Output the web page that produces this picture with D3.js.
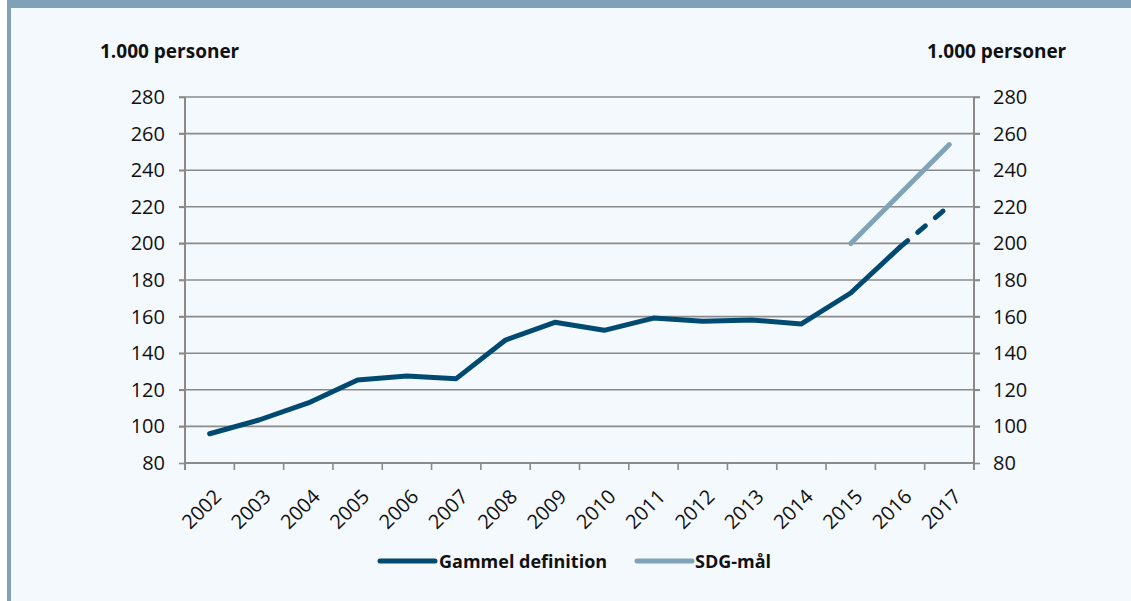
<!DOCTYPE html>
<html>
<head>
<meta charset="utf-8">
<script src="https://cdn.jsdelivr.net/npm/d3@7"></script>
<style>
  html, body { margin: 0; padding: 0; background: #ffffff; }
  #chart { width: 1131px; height: 601px; }
  text { font-family: "Open Sans", "Noto Sans", sans-serif; fill: #111; }
</style>
</head>
<body>
<div id="chart"></div>
<script>
// data
const years = ["2002", "2003", "2004", "2005", "2006", "2007", "2008", "2009",
               "2010", "2011", "2012", "2013", "2014", "2015", "2016", "2017"];
const gammel = [96, 103.5, 112.8, 125.4, 127.5, 126.1, 147.2, 156.9,
                152.5, 159.2, 157.4, 158.1, 156.0, 172.9, 198, 220.5];
const sdgYears = ["2015", "2016", "2017"];
const sdg = [200, 227, 254];
const yTicks = [80, 100, 120, 140, 160, 180, 200, 220, 240, 260, 280];
const unitLabel = "1.000 personer";
const legendNames = ["Gammel definition", "SDG-mål"];

document.addEventListener("DOMContentLoaded", function() {
  const W = 1131, H = 601;
  const margin = { top: 97, right: 157, bottom: 138, left: 185 },
        width = W - margin.left - margin.right,
        height = H - margin.top - margin.bottom;

  const root = d3.select("#chart").append("svg")
    .attr("width", W)
    .attr("height", H);

  // frame: light panel with blue-grey header and left border
  root.append("rect").attr("x", 0).attr("y", 0).attr("width", W).attr("height", H).attr("fill", "#ffffff");
  root.append("rect").attr("x", 11).attr("y", 8).attr("width", W - 11).attr("height", H - 8).attr("fill", "#f4f9fd");
  root.append("rect").attr("x", 7).attr("y", 0).attr("width", W - 7).attr("height", 8).attr("fill", "#7fa2b7");
  root.append("rect").attr("x", 7).attr("y", 0).attr("width", 4).attr("height", H).attr("fill", "#7fa2b7");

  const svg = root.append("g")
    .attr("transform", `translate(${margin.left},${margin.top})`);

  const x = d3.scaleBand().domain(years).range([0, width]);
  const y = d3.scaleLinear().domain([80, 280]).range([height, 0]);
  const cx = d => x(d) + x.bandwidth() / 2;

  // gridlines
  svg.append("g")
    .selectAll("line")
    .data(yTicks.slice(1))
    .join("line")
    .attr("x1", -6).attr("x2", width + 6)
    .attr("y1", d => y(d)).attr("y2", d => y(d))
    .attr("stroke", "#8a8a8a")
    .attr("stroke-width", 1.6);

  // left + right y axes
  const yl = svg.append("g")
    .call(d3.axisLeft(y).tickValues(yTicks).tickSize(6).tickPadding(14));
  const yr = svg.append("g")
    .attr("transform", `translate(${width},0)`)
    .call(d3.axisRight(y).tickValues(yTicks).tickSize(6).tickPadding(13));
  [yl, yr].forEach(a => {
    a.select(".domain").remove();
    a.selectAll(".tick line").attr("stroke", "#8a8a8a").attr("stroke-width", 1.6);
    a.selectAll("text").style("font-size", "20px").attr("fill", "#111");
  });
  [0, width].forEach(px => {
    svg.append("line")
      .attr("x1", px).attr("x2", px).attr("y1", 0).attr("y2", height + 7)
      .attr("stroke", "#8a8a8a").attr("stroke-width", 2);
  });

  // x axis: ticks on category boundaries, labels rotated
  svg.append("line")
    .attr("x1", 0).attr("x2", width).attr("y1", height).attr("y2", height)
    .attr("stroke", "#8a8a8a").attr("stroke-width", 2);
  svg.append("g")
    .selectAll("line")
    .data(d3.range(years.length + 1))
    .join("line")
    .attr("x1", i => i * x.step()).attr("x2", i => i * x.step())
    .attr("y1", height).attr("y2", height + 7)
    .attr("stroke", "#8a8a8a").attr("stroke-width", 1.6);
  svg.append("g")
    .selectAll("text")
    .data(years)
    .join("text")
    .attr("transform", d => `translate(${cx(d) + 13},${height + 35}) rotate(-45)`)
    .attr("text-anchor", "end")
    .style("font-size", "20px")
    .text(d => d);

  // unit labels
  svg.append("text").attr("x", -85).attr("y", -39).style("font-size", "19px").style("font-weight", "bold").text(unitLabel);
  svg.append("text").attr("x", width - 47).attr("y", -39).style("font-size", "19px").style("font-weight", "bold").text(unitLabel);

  // lines
  const pts = years.map((yr, i) => ({ year: yr, v: gammel[i] }));
  const line = d3.line().x(d => cx(d.year)).y(d => y(d.v));
  const dark = "#004a72", light = "#80a3b8";

  svg.append("path")
    .datum(pts.slice(0, 15))
    .attr("fill", "none").attr("stroke", dark).attr("stroke-width", 5)
    .attr("stroke-linecap", "round").attr("stroke-linejoin", "round")
    .attr("d", line);
  svg.append("path")
    .datum(pts.slice(14))
    .attr("fill", "none").attr("stroke", dark).attr("stroke-width", 5)
    .attr("stroke-linecap", "round").attr("stroke-dasharray", "10,13")
    .attr("d", line);
  svg.append("path")
    .datum(sdgYears.map((yr, i) => ({ year: yr, v: sdg[i] })))
    .attr("fill", "none").attr("stroke", light).attr("stroke-width", 5)
    .attr("stroke-linecap", "round")
    .attr("d", line);

  // legend
  const legend = root.append("g").attr("transform", "translate(0,561)");
  [[380, 435, dark, 439], [637, 692, light, 695]].forEach((l, i) => {
    legend.append("line").attr("x1", l[0]).attr("x2", l[1]).attr("y1", 0).attr("y2", 0)
      .attr("stroke", l[2]).attr("stroke-width", 5).attr("stroke-linecap", "round");
    legend.append("text").attr("x", l[3]).attr("y", 6.5)
      .style("font-size", "18px").style("font-weight", "bold")
      .text(legendNames[i]);
  });
});
</script>
</body>
</html>
